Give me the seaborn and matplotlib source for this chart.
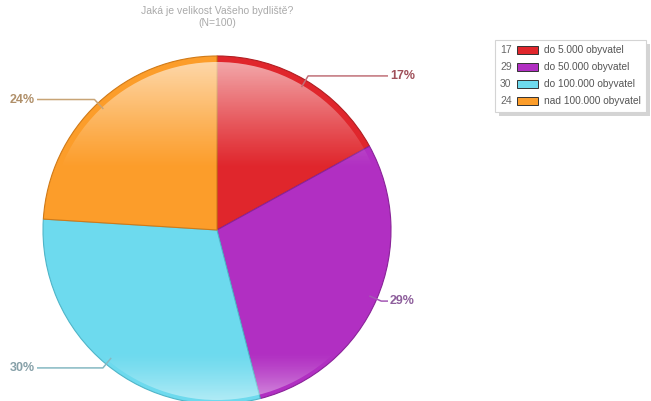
import numpy as np
import pandas as pd
import matplotlib
matplotlib.use("Agg")
import matplotlib.pyplot as plt
from matplotlib.patches import Circle, Rectangle
import seaborn as sns

# Survey answers: size of the respondent's home town (N=100)
categories = ["do 5.000 obyvatel", "do 50.000 obyvatel", "do 100.000 obyvatel", "nad 100.000 obyvatel"]
counts = [17, 29, 30, 24]
slice_colors = ["#e0262c", "#b12fc2", "#6ddaee", "#fc9d2a"]
edge_colors = ["#b01e22", "#8a2399", "#4fb5c8", "#d07a18"]
label_colors = ["#a0505a", "#8e5f9c", "#86a0a8", "#b0906a"]
line_colors = ["#c07078", "#a458b4", "#86b8c2", "#c8a476"]
title_lines = ["Jaká je velikost Vašeho bydliště?", "(N=100)"]

df = pd.DataFrame({"kategorie": categories, "pocet": counts})
df["podil"] = df["pocet"] / df["pocet"].sum() * 100

sns.set_theme(style="white")
plt.rcParams["font.family"] = ["Liberation Sans", "DejaVu Sans"]

W, H = 651, 401
fig = plt.figure(figsize=(W / 100, H / 100), dpi=100)
ax = fig.add_axes([0, 0, 1, 1])

cx, cy, R = 217, 171, 174
wedges, _ = ax.pie(df["pocet"], colors=slice_colors, startangle=90,
                   counterclock=False, center=(cx, cy), radius=R,
                   wedgeprops=dict(linewidth=0.8))
for w, ec in zip(wedges, edge_colors):
    w.set_edgecolor(ec)

ax.set_xlim(0, W)
ax.set_ylim(0, H)
ax.set_aspect("equal")
ax.axis("off")

# glossy highlight on the upper part, inset from the rim
ny = 256
top_y0, top_y1 = H - 168, cy + R
alpha_top = np.linspace(0, 0.66, ny) ** 1.1
img = np.ones((ny, 1, 4))
img[:, 0, 3] = alpha_top
im = ax.imshow(img, extent=(cx - R, cx + R, top_y0, top_y1), origin="lower",
               aspect="auto", interpolation="bilinear", zorder=3)
clip_top = Circle((cx, cy), R - 6, transform=ax.transData)
im.set_clip_path(clip_top)

# softer highlight along the bottom edge
bot_y0, bot_y1 = cy - R, H - 352
alpha_bot = np.linspace(0.6, 0, ny) ** 1.3
img2 = np.ones((ny, 1, 4))
img2[:, 0, 3] = alpha_bot
im2 = ax.imshow(img2, extent=(cx - R, cx + R, bot_y0, bot_y1), origin="lower",
                aspect="auto", interpolation="bilinear", zorder=3)
clip_bot = Circle((cx, cy), R - 4, transform=ax.transData)
im2.set_clip_path(clip_bot)
ax.set_xlim(0, W)
ax.set_ylim(0, H)

# percentage labels with leader lines
for w, pct, lc, tc in zip(wedges, df["podil"], line_colors, label_colors):
    mid = np.deg2rad((w.theta1 + w.theta2) / 2)
    x0, y0 = cx + (R - 8) * np.cos(mid), cy + (R - 8) * np.sin(mid)
    xk, yk = cx + (R + 5) * np.cos(mid), cy + (R + 5) * np.sin(mid)
    if np.cos(mid) >= 0:
        xe, xt, ha = 388, 390, "left"
    else:
        xe, xt, ha = 37, 35, "right"
    ax.plot([x0, xk, xe], [y0, yk, yk], color=lc, lw=1.1, zorder=4,
            solid_capstyle="butt")
    ax.text(xt, yk, f"{pct:.0f}%", color=tc, fontsize=9, fontweight="bold",
            ha=ha, va="center", zorder=5)

# title
ax.text(cx, H - 11, title_lines[0], color="#aaaaaa", fontsize=7.5, ha="center", va="center")
ax.text(cx, H - 23, title_lines[1], color="#aaaaaa", fontsize=7.5, ha="center", va="center")

# legend box with drop shadow
lx0, lx1, ly_top, ly_bot = 495, 646, H - 40, H - 112
ax.add_patch(Rectangle((lx0 + 4, ly_bot - 4), lx1 - lx0, ly_top - ly_bot,
                       facecolor="#b8b8b8", edgecolor="none", alpha=0.6, zorder=5))
ax.add_patch(Rectangle((lx0, ly_bot), lx1 - lx0, ly_top - ly_bot,
                       facecolor="white", edgecolor="#d4d4d4", lw=0.8, zorder=6))
row_y = [50.0, 67.0, 84.0, 101.0]
for ry, n, lab, col in zip(row_y, df["pocet"], df["kategorie"], slice_colors):
    y = H - ry
    ax.text(500, y, f"{n}", color="#666666", fontsize=7.5, ha="left", va="center", zorder=7)
    ax.add_patch(Rectangle((517, y - 4), 21, 8, facecolor=col, edgecolor="#333333",
                           lw=0.7, zorder=7))
    ax.text(544, y, lab, color="#555555", fontsize=7.3, ha="left", va="center", zorder=7)

fig.savefig("out.png", dpi=100)
